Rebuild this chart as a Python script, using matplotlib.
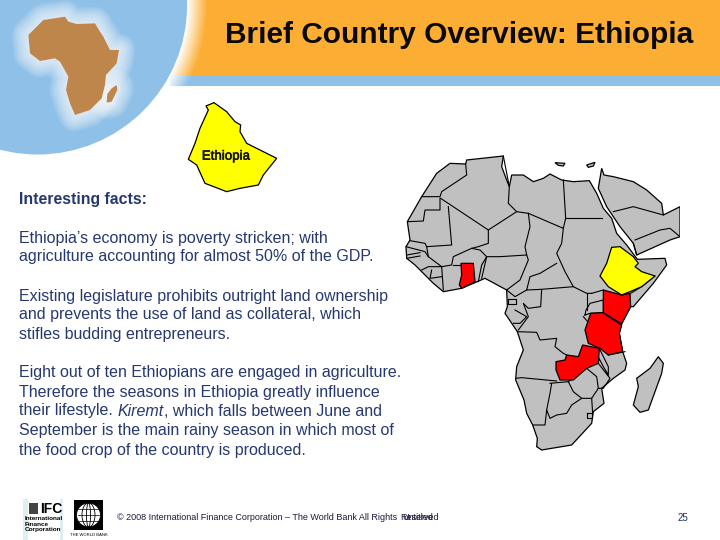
import numpy as np
import matplotlib
matplotlib.use("Agg")
import matplotlib.pyplot as plt
from matplotlib.patches import Polygon, Circle, Ellipse, Rectangle
import matplotlib.patheffects as pe

plt.rcParams['font.family'] = ['Liberation Sans', 'DejaVu Sans']

# Texts
title = "Brief Country Overview: Ethiopia"
heading = "Interesting facts:"
para_lines = [
    "Ethiopia\u2019s economy is poverty stricken; with",
    "agriculture accounting for almost 50% of the GDP.",
    "Existing legislature prohibits outright land ownership",
    "and prevents the use of land as collateral, which",
    "stifles budding entrepreneurs.",
    "Eight out of ten Ethiopians are engaged in agriculture.",
    "Therefore the seasons in Ethiopia greatly influence",
    None,
    "September is the main rainy season in which most of",
    "the food crop of the country is produced.",
]
para_y = [238, 257, 296, 315, 334, 373, 392, 411, 431, 450]
footer = "\u00a9 2008 International Finance Corporation \u2013 The World Bank All Rights"
page_no = "25"

# Small map, in 3x crop units of the top left corner
small_africa = [(85,105),(105,85),(130,60),(195,50),(205,65),(230,72),(285,70),(300,95),(310,110),
                (330,150),(357,150),(350,190),(318,225),(315,255),(305,295),(270,330),(225,345),
                (210,310),(198,270),(205,230),(180,185),(165,175),(120,183),(90,160)]
small_madagascar = [(350,255),(352,270),(335,305),(320,308),(322,282),(335,265)]
small_ethiopia = [(618,318),(642,308),(680,335),(705,365),(722,375),(720,395),(740,430),(830,475),
                  (790,525),(775,555),(720,565),(680,575),(615,550),(590,495),(565,478),(585,430),
                  (600,385),(625,330)]

# Big map, 3x crop units with origin at pixel (400,150)
mainland = [(150,40),(197,42),(200,30),(310,18),(305,50),(320,90),(328,110),(335,75),(370,75),(400,95),
            (430,85),(450,72),(485,90),(520,95),(568,92),(590,130),(610,175),(635,205),(650,250),
            (680,285),(712,328),(795,325),(800,345),(760,400),(700,470),(692,470),(665,520),(658,550),
            (668,605),(680,640),(675,660),(640,685),(605,715),(612,760),(580,785),(575,820),(515,885),
            (425,900),(410,890),(412,865),(398,825),(380,790),(372,750),(347,690),(350,650),(370,600),
            (352,545),(315,490),(322,470),(320,420),(255,385),(220,400),(185,415),(130,425),(100,400),
            (70,370),(45,345),(20,325),(18,290),(30,270),(22,215),(65,140),(110,70)]
arabia = [(595,115),(605,55),(612,75),(640,80),(700,95),(740,120),(785,160),(790,195),(840,170),
          (840,260),(810,270),(710,315),(700,280),(660,230),(620,170)]
madagascar = [(775,620),(790,640),(785,670),(745,780),(720,787),(700,765),(715,710),(710,685),(750,655)]
sicily = [(465,38),(495,40),(490,48),(475,46)]
crete = [(560,45),(585,37),(580,48),(565,52)]

ethiopia = [(635,292),(660,290),(700,320),(715,340),(705,350),(725,365),(765,378),(725,410),(690,425),
            (665,435),(625,410),(600,378),(620,340)]
ghana = [(183,340),(220,340),(225,395),(185,415),(178,405),(185,375)]
kenya = [(610,420),(665,435),(690,430),(692,470),(665,522),(610,488)]
tanzania = [(572,490),(608,488),(665,525),(658,550),(668,605),(625,615),(600,595),(565,580),(555,540)]
zambia = [(548,585),(598,595),(595,640),(560,655),(520,690),(480,690),(468,660),(468,635),(495,630),
          (500,615),(535,620)]

borders = [
    [(65,140),(120,140),(125,125),(200,75),(197,42)],
    [(25,215),(70,213),(75,180),(120,180),(120,145)],
    [(145,170),(155,285),(80,290),(75,280),(30,272)],
    [(122,145),(265,240),(350,185)],
    [(265,240),(265,280),(235,290),(215,295)],
    [(80,290),(85,320),(125,350),(155,345),(160,320),(215,295),(240,300),(260,320),(245,345),(235,395)],
    [(310,18),(328,110),(325,160),(350,185),(385,190),(490,235)],
    [(490,90),(497,205),(490,235)],
    [(497,205),(605,205)],
    [(385,190),(390,230),(375,290),(380,315),(385,330),(360,390),(320,420)],
    [(490,235),(485,280),(470,310),(495,365),(520,410)],
    [(470,340),(420,370),(390,380),(380,420),(425,418),(520,410),(560,430),(575,430)],
    [(245,385),(260,320),(300,320),(380,315)],
    [(320,420),(345,440),(380,420)],
    [(125,350),(130,420)],
    [(160,345),(183,345)],
    [(65,360),(85,350),(125,350)],
    [(95,360),(90,385),(125,380)],
    [(18,290),(75,305),(85,320)],
    [(20,315),(60,308)],
    [(20,325),(60,318)],
    [(325,448),(347,448),(347,462),(325,462),(325,448)],
    [(425,418),(422,470),(385,475),(370,460),(385,500),(355,540)],
    [(345,480),(380,500),(360,520),(340,520)],
    [(352,545),(410,547),(420,570),(470,565),(465,590),(490,610),(500,615)],
    [(347,685),(365,683),(470,693)],
    [(455,700),(450,730),(440,780),(435,825),(398,825)],
    [(450,700),(505,695),(520,725),(545,745),(515,765),(500,790),(470,795),(450,805),(440,780)],
    [(505,695),(560,655),(590,680),(595,715),(575,745),(545,745)],
    [(575,745),(578,790)],
    [(562,788),(577,788),(577,805),(562,805),(562,788)],
    [(598,595),(610,620),(625,650),(625,675),(610,650),(597,625),(595,640),(630,685),(610,715),(595,715)],
    [(625,615),(675,605)],
    [(555,495),(570,490),(610,488),(610,450),(570,460),(558,480),(555,495)],
    [(550,500),(572,525)],
    [(560,430),(560,480)],
    [(610,420),(575,430)],
    [(765,378),(725,410),(692,430)],
    [(700,280),(710,315)],
    [(705,270),(780,240),(810,235),(840,260)],
    [(640,185),(700,170),(790,195)],
]

fig = plt.figure(figsize=(7.2, 5.4), dpi=100, facecolor='white')
ax = fig.add_axes([0, 0, 1, 1])
ax.axis('off')

# header band, fades into white around the disc
disc_x, disc_y, disc_r = 37.6, 5, 149.5
orange = np.array([252, 174, 52]) / 255
blue = np.array([142, 192, 232]) / 255
gx, gy = np.meshgrid(np.arange(170, 720) + 0.5, np.arange(0, 86) + 0.5)
fade = np.clip((np.hypot(gx - disc_x, gy - disc_y) - disc_r) / 20, 0, 1)
band = np.ones(gx.shape + (4,))
band[..., :3] = orange
band[gy > 75, :3] = blue
band[..., 3] = fade
ax.imshow(band, extent=(170, 720, 86, 0), aspect='auto', zorder=1, interpolation='bilinear')
ax.set_xlim(0, 720)
ax.set_ylim(540, 0)

# blue disc in the corner
ax.add_patch(Circle((disc_x, disc_y), disc_r, fc='#8ec0e8', ec='none', zorder=3))

ax.text(459.5, 35, title, fontsize=21.5, fontweight='bold', color='#0a0a0a', ha='center', va='center', zorder=5)

# Africa icon and Ethiopia cut-out
small = fig.add_axes([0, 1 - 200/540, 280/720, 200/540])
small.set_xlim(0, 840)
small.set_ylim(600, 0)
small.axis('off')
small.patch.set_alpha(0)
# soft white glow first, the land on top of it
for shape in (small_africa, small_madagascar):
    for w in range(24, 0, -2):
        small.add_patch(Polygon(shape, fc='white', ec='white', lw=w, alpha=0.09, joinstyle='round'))
for shape in (small_africa, small_madagascar):
    small.add_patch(Polygon(shape, fc='#bf864b', ec='none'))
small.add_patch(Polygon(small_ethiopia, fc='#ffff00', ec='black', lw=0.9))
small.text(678, 470, "Ethiopia", fontsize=9.6, color='#111111', ha='center', va='center',
           path_effects=[pe.withStroke(linewidth=0.4, foreground='#111111')])

# Body text
body_color = '#26386f'
ax.text(19, 199.5, heading, fontsize=11.4, fontweight='bold', color=body_color, va='center', zorder=5)
for line, y in zip(para_lines, para_y):
    if line is not None:
        ax.text(19, y, line, fontsize=11.55, color=body_color, va='center', zorder=5)
# the line with the italic word is three pieces
ax.text(19, para_y[7], "their lifestyle.", fontsize=11.55, color=body_color, va='center', zorder=5)
ax.text(117, para_y[7], "Kiremt", fontsize=11.55, style='italic', color=body_color, va='center', zorder=5)
ax.text(163.5, para_y[7], ", which falls between June and", fontsize=11.55, color=body_color, va='center', zorder=5)

# Big map
big = fig.add_axes([400/720, 1 - 470/540, 280/720, 320/540])
big.set_xlim(0, 840)
big.set_ylim(960, 0)
big.axis('off')
big.patch.set_alpha(0)
for shape in (mainland, arabia, madagascar, sicily, crete):
    big.add_patch(Polygon(shape, fc='#c0c0c0', ec='black', lw=0.9))
for shape in (ghana, kenya, tanzania, zambia):
    big.add_patch(Polygon(shape, fc='#ff0000', ec='black', lw=0.9, zorder=3))
big.add_patch(Polygon(ethiopia, fc='#ffff00', ec='black', lw=0.9, zorder=3))
for line in borders:
    xy = np.array(line)
    big.plot(xy[:, 0], xy[:, 1], color='black', lw=0.8, zorder=2)

# Footer logos
ax.add_patch(Rectangle((23, 499), 40, 41, fc='#dfeef2', ec='none', zorder=4))
ax.add_patch(Rectangle((28, 499), 32, 41, fc='white', ec='none', zorder=4))
ax.text(51, 509, "IFC", fontsize=10, fontweight='bold', color='black', ha='center', va='center', zorder=5)
ax.add_patch(Rectangle((29, 503), 9, 11, fc='#444444', ec='none', zorder=5))
for y, s in zip([518, 524, 530], ["International", "Finance", "Corporation"]):
    ax.text(25, y, s, fontsize=4.6, fontweight='bold', color='black', va='center', zorder=5)
ax.add_patch(Rectangle((74, 500), 29, 30, fc='black', ec='none', zorder=4))
ax.add_patch(Circle((88.5, 515), 12, fc='white', ec='none', zorder=5))
for w in (24, 13, 4):
    ax.add_patch(Ellipse((88.5, 515), w, 24, fc='none', ec='black', lw=0.6, zorder=6))
for dy in (-6, 0, 6):
    ax.plot([78, 99], [515 + dy, 515 + dy], color='black', lw=0.5, zorder=6)
ax.text(88.5, 535, "THE WORLD BANK", fontsize=3, color='black', ha='center', va='center', zorder=5)

ax.text(117, 517, footer, fontsize=6.5, color='#1a1a3a', va='center', zorder=5)
ax.text(400, 517, "Reserved", fontsize=6.5, color='#1a1a3a', va='center', zorder=5)
ax.text(402, 517, "Untitled", fontsize=6.5, color='#1a1a3a', va='center', zorder=5)
ax.text(683, 518, page_no, fontsize=7, color='#1c2f66', ha='center', va='center', zorder=5)

fig.savefig("out.png", dpi=100)
